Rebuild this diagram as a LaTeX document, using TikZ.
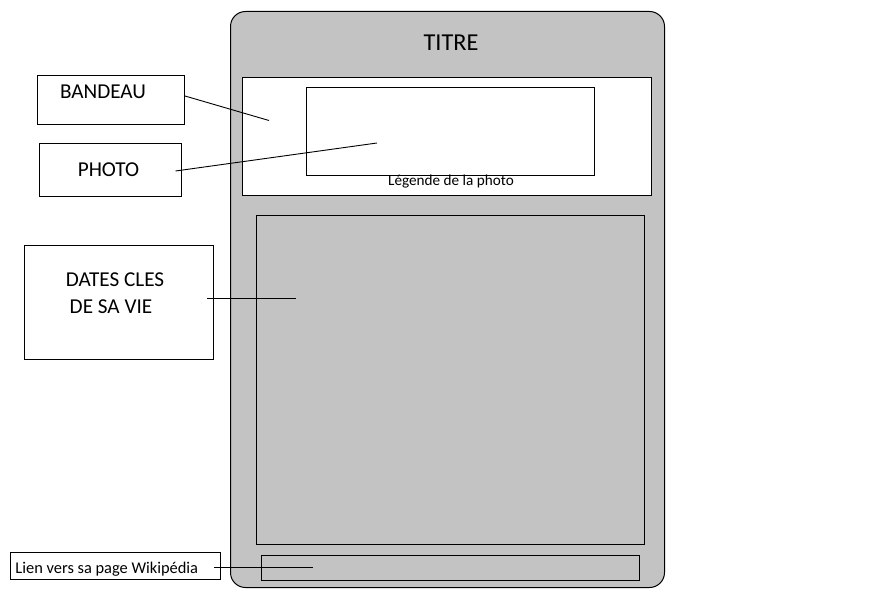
\documentclass[tikz,border=0pt]{standalone}
\usepackage{fontspec}
\setmainfont{Carlito}
\definecolor{panel}{HTML}{C3C3C3}
\begin{document}
\begin{tikzpicture}[x=1pt,y=-1pt,line width=1pt,
  frame/.style={draw,inner sep=0pt,anchor=north west},
  lbl/.style={inner sep=0pt,anchor=base},
  big/.style={font=\fontsize{21.2}{25}\selectfont},
  link/.style={line width=0.9pt}]
\useasboundingbox (0,0) rectangle (893,593);
% card
\node[frame,fill=panel,rounded corners=15pt,minimum width=434pt,minimum height=576pt] (card) at (230,11) {};
\node[lbl,font=\fontsize{24.3}{28}\selectfont] (titre) at (451,51) {TITRE};
\node[frame,fill=white,minimum width=409pt,minimum height=118pt] (bandeau) at (242,77) {};
\node[frame,fill=white,minimum width=288pt,minimum height=88pt] (photo) at (306,87) {};
\node[lbl,font=\fontsize{15.2}{18}\selectfont] (legende) at (451,185.5) {Légende de la photo};
\node[frame,minimum width=388pt,minimum height=329pt] (dates) at (256,215) {};
\node[frame,minimum width=378pt,minimum height=25pt] (lien) at (261,555) {};
% left labels
\node[frame,minimum width=147pt,minimum height=49pt] (bBandeau) at (37,75) {};
\node[lbl,big] (tBandeau) at (103,99) {BANDEAU};
\node[frame,minimum width=142pt,minimum height=53pt] (bPhoto) at (39,143) {};
\node[lbl,big] (tPhoto) at (108.5,177) {PHOTO};
\node[frame,minimum width=189pt,minimum height=114pt] (bDates) at (24,245) {};
\node[lbl,big] (tDates1) at (115,287) {DATES CLES};
\node[lbl,big] (tDates2) at (111,313) {DE SA VIE};
\node[frame,minimum width=210pt,minimum height=27pt] (bLien) at (10,552) {};
\node[lbl,anchor=base west,font=\fontsize{16.4}{19}\selectfont] (tLien) at (15,573.5) {Lien vers sa page Wikipédia};
% connector ends
\coordinate (sBandeau) at (185,96);
\coordinate (eBandeau) at (269,120.5);
\coordinate (sPhoto) at (175.5,171);
\coordinate (ePhoto) at (377,143);
\coordinate (sDates) at (207,298);
\coordinate (eDates) at (296,298);
\coordinate (sLien) at (214,567);
\coordinate (eLien) at (313,567);
\draw[link] (sBandeau) -- (eBandeau);
\draw[link] (sPhoto) -- (ePhoto);
\draw[link] (sDates) -- (eDates);
\draw[link] (sLien) -- (eLien);
\end{tikzpicture}
\end{document}
